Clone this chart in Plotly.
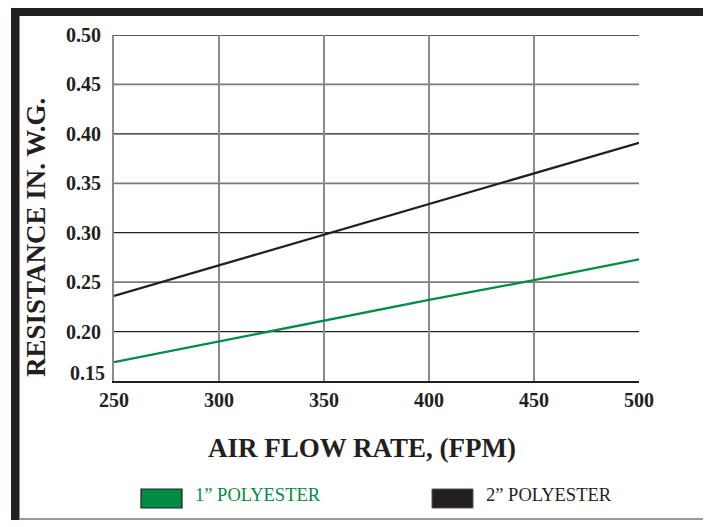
import plotly.graph_objects as go

airflow = [250, 300, 350, 400, 450, 500]
poly_1in = [0.169, 0.190, 0.211, 0.232, 0.252, 0.273]
poly_2in = [0.236, 0.267, 0.298, 0.329, 0.360, 0.391]
series_names = ["1\u201d POLYESTER", "2\u201d POLYESTER"]
x_ticks = [250, 300, 350, 400, 450, 500]
y_ticks = [0.15, 0.20, 0.25, 0.30, 0.35, 0.40, 0.45, 0.50]

GREEN = "#008C44"
BLACK = "#231F20"
W, H = 711, 527
OFF = 8  # page body margin
PL, PR, PT, PB = 114, 639, 35, 381  # plot area in page pixels
L, T = PL - OFF, PT - OFF
R, B = W + OFF - PR, H + OFF - PB
PW, PH = PR - PL, PB - PT

def px(x):
    return (x - PL) / PW

def py(y):
    return (PB - y) / PH

fig = go.Figure()
fig.add_trace(go.Scatter(x=airflow, y=poly_1in, mode="lines", name=series_names[0],
                         line=dict(color=GREEN, width=2.3), showlegend=False))
fig.add_trace(go.Scatter(x=airflow, y=poly_2in, mode="lines", name=series_names[1],
                         line=dict(color=BLACK, width=2.3), showlegend=False))

font = "Liberation Serif, Times New Roman, serif"
fig.update_layout(
    width=W, height=H,
    margin=dict(l=L, r=R, t=T, b=B),
    paper_bgcolor="white", plot_bgcolor="white",
    font=dict(family=font, color=BLACK),
    xaxis=dict(range=[250, 500], tickvals=x_ticks, ticktext=[f"<b>{v}</b>" for v in x_ticks],
               tickfont=dict(size=20, family=font, color=BLACK),
               showgrid=True, gridcolor="#8a8a8a", gridwidth=1.8,
               showline=True, linecolor=BLACK, linewidth=1.6, ticks="", ticklabelstandoff=0,
               zeroline=False, fixedrange=True),
    yaxis=dict(range=[0.15, 0.50], tickvals=y_ticks[1:], ticktext=[f"<b>{v:.2f}</b>" for v in y_ticks[1:]],
               tickfont=dict(size=20, family=font, color=BLACK),
               showgrid=False,
               showline=True, linecolor="#8a8a8a", linewidth=1.8, ticks="", ticklabelstandoff=7,
               zeroline=False, fixedrange=True),
)

# lowest y tick label sits a little above the axis line, as in the original
fig.add_annotation(text=f"<b>{y_ticks[0]:.2f}</b>", x=0, y=y_ticks[0], xref="paper", yref="y",
                   xshift=-7, yshift=8, showarrow=False, xanchor="right", yanchor="middle",
                   font=dict(size=20, family=font, color=BLACK))

# axis titles
fig.add_annotation(text="<b>AIR FLOW RATE, (FPM)</b>", x=px(362), y=py(448), xref="paper", yref="paper",
                   showarrow=False, font=dict(size=27, family=font, color=BLACK),
                   xanchor="center", yanchor="middle")
fig.add_annotation(text="<b>RESISTANCE IN. W.G.</b>", x=px(36), y=py(238), xref="paper", yref="paper",
                   showarrow=False, textangle=-90, font=dict(size=27, family=font, color=BLACK),
                   xanchor="center", yanchor="middle")

shapes = []
# horizontal gridlines: alternating black / grey
for i, v in enumerate(y_ticks[1:]):
    dark = (i % 2 == 0)
    shapes.append(dict(type="line", xref="paper", yref="y", x0=0, x1=1, y0=v, y1=v,
                       line=dict(color=BLACK if dark else "#7a7a7a", width=1.3 if dark else 1.8),
                       layer="below"))
# frame
shapes.append(dict(type="rect", xref="paper", yref="paper", x0=px(11), x1=px(720), y0=py(16), y1=py(6),
                   fillcolor=BLACK, line=dict(width=0), layer="above"))
shapes.append(dict(type="rect", xref="paper", yref="paper", x0=px(11), x1=px(19.5), y0=py(520), y1=py(6),
                   fillcolor=BLACK, line=dict(width=0), layer="above"))
shapes.append(dict(type="line", xref="paper", yref="paper", x0=px(710), x1=px(710), y0=py(519), y1=py(16),
                   line=dict(color="#777", width=1.5), layer="above"))
shapes.append(dict(type="line", xref="paper", yref="paper", x0=px(19), x1=px(710.5), y0=py(519), y1=py(519),
                   line=dict(color="#777", width=1.5), layer="above"))
# legend boxes
shapes.append(dict(type="rect", xref="paper", yref="paper", x0=px(141), x1=px(182), y0=py(508), y1=py(489),
                   fillcolor=GREEN, line=dict(color=BLACK, width=1.2), layer="above"))
shapes.append(dict(type="rect", xref="paper", yref="paper", x0=px(432), x1=px(473), y0=py(508), y1=py(489),
                   fillcolor=BLACK, line=dict(color="#555", width=1), layer="above"))
fig.update_layout(shapes=shapes)

fig.add_annotation(text=series_names[0], x=px(193), y=py(495), xref="paper", yref="paper", showarrow=False,
                   font=dict(size=18.5, family=font, color=GREEN), xanchor="left", yanchor="middle")
fig.add_annotation(text=series_names[1], x=px(484), y=py(495), xref="paper", yref="paper", showarrow=False,
                   font=dict(size=18.5, family=font, color=BLACK), xanchor="left", yanchor="middle")

fig.write_html("out.html")
